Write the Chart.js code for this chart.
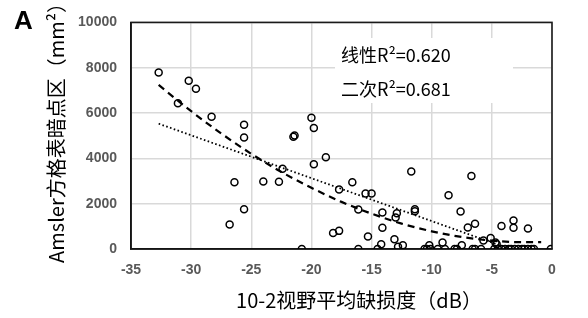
<!DOCTYPE html>
<html>
<head>
<meta charset="utf-8">
<script src="https://cdn.jsdelivr.net/npm/chart.js@4.4.0/dist/chart.umd.min.js"></script>
<style>
html,body{margin:0;padding:0;background:#fff;}
#wrap{width:588px;height:318px;position:relative;}
</style>
</head>
<body>
<div id="wrap"><canvas id="c" width="588" height="318"></canvas></div>
<script>
// Scatter points
const ptX = [-32.7,-30.2,-29.6,-31.1,-28.3,-25.6,-25.6,-22.4,-26.4,-24.0,-22.7,-25.6,-26.8,
  -20.0,-19.8,-21.5,-21.4,-18.8,-19.8,-16.6,-17.7,-15.5,-15.0,-16.1,-14.1,-12.9,-13.0,-11.7,
  -18.2,-17.7,-14.1,-15.3,-13.1,-14.2,-12.8,-12.4,-6.7,-8.6,-11.4,-11.4,-7.6,-7.0,-6.4,-4.2,
  -3.2,-3.2,-2.0,-5.7,-5.1,-4.7,-4.6,-9.1,-7.5,-10.2,
  -20.8,-16.1,-14.5,-10.6,-10.4,-10.1,-9.5,-8.9,-8.1,-7.9,-6.6,-6.4,-5.9,-4.8,-4.5,-4.2,
  -3.9,-3.6,-3.4,-3.1,-2.8,-2.5,-2.3,-2.0,-1.7,-1.5,-0.1];
const ptY = [7790,7420,7070,6430,5840,5480,4920,3540,2950,2980,2970,1750,1080,
  5790,5340,4950,5010,4050,3740,2950,2630,2450,2450,1740,1610,1580,1390,3420,
  710,800,940,550,430,210,100,160,3220,2370,1750,1670,1650,950,1110,1020,
  1260,940,900,380,490,290,210,290,170,170,
  0,0,0,0,0,0,0,0,0,0,0,0,0,0,0,0,
  0,0,0,0,0,0,0,0,0,0,0];
// Quadratic trend curve
const quadX = [-32.7,-30,-27.5,-25,-22.5,-20,-17.5,-15,-12.5,-10,-7.5,-5,-2.5,-0.9];
const quadY = [7240,6080,5100,4200,3400,2700,2080,1560,1120,780,530,370,300,300];
// Linear trend line, end points
const linX = [-32.7,-3.5];
const linY = [5530,0];
// Axis ticks
const xTicks = [-35,-30,-25,-20,-15,-10,-5,0];
const yTicks = [0,2000,4000,6000,8000,10000];
const noteLines = ['线性R²=0.620','二次R²=0.681'];
const xTitle = '10-2视野平均缺损度（dB）';
const yTitle = 'Amsler方格表暗点区（mm²）';
const panelLabel = 'A';

const toPts = (xs, ys) => xs.map((v,i)=>({x:v,y:ys[i]}));

const decor = {
  id:'decor',
  beforeDatasetsDraw(chart){
    const {ctx, chartArea:a} = chart;
    ctx.save();
    ctx.fillStyle = '#ffffff';
    ctx.fillRect(335, 38, 178, 65);
    ctx.strokeStyle = '#1a1a1a';
    ctx.lineWidth = 1.6;
    ctx.strokeRect(a.left, a.top, a.right - a.left, a.bottom - a.top);
    ctx.restore();
  },
  afterDraw(chart){
    const {ctx} = chart;
    ctx.save();
    ctx.fillStyle = '#000';
    ctx.font = '18px "Noto Sans CJK SC"';
    ctx.textAlign = 'left';
    ctx.textBaseline = 'alphabetic';
    ctx.fillText(noteLines[0], 341, 62);
    ctx.fillText(noteLines[1], 341, 96);
    // x title
    ctx.font = '20px "Noto Sans CJK SC"';
    ctx.textAlign = 'center';
    ctx.textBaseline = 'middle';
    ctx.fillText(xTitle, 359, 300);
    // y title
    ctx.save();
    ctx.translate(56, 128);
    ctx.rotate(-Math.PI/2);
    ctx.font = '20px "Noto Sans CJK SC"';
    ctx.fillText(yTitle, 0, 0);
    ctx.restore();
    // panel label
    ctx.font = 'bold 26px "Liberation Sans"';
    ctx.textAlign = 'left';
    ctx.textBaseline = 'alphabetic';
    ctx.fillText(panelLabel, 14, 29);
    ctx.restore();
  }
};

const tickFont = { family: 'Liberation Sans', size: 14, weight: 'bold' };

new Chart(document.getElementById('c'), {
  type: 'scatter',
  data: {
    datasets: [
      {
        label: 'points',
        data: toPts(ptX, ptY),
        pointRadius: 3.5,
        pointBorderWidth: 1.5,
        borderColor: '#000',
        backgroundColor: 'rgba(0,0,0,0)',
        pointHoverRadius: 3.5
      },
      {
        label: 'quad',
        data: toPts(quadX, quadY),
        showLine: true,
        pointRadius: 0,
        borderColor: '#000',
        borderWidth: 2.2,
        borderDash: [7,5],
        cubicInterpolationMode: 'monotone',
        fill: false
      },
      {
        label: 'linear',
        data: toPts(linX, linY),
        showLine: true,
        pointRadius: 0,
        borderColor: '#000',
        borderWidth: 1.8,
        borderDash: [1.6,2.4],
        fill: false
      }
    ]
  },
  options: {
    responsive: false,
    animation: false,
    events: [],
    layout: { padding: { left: 0, right: 36, top: 11, bottom: 0 } },
    plugins: { legend: { display: false }, tooltip: { enabled: false } },
    scales: {
      x: {
        type: 'linear',
        min: -35, max: 0,
        afterBuildTicks: s => { s.ticks = xTicks.map(v => ({value: v})); },
        afterFit: s => { s.height = 69; },
        grid: { color: '#d9d9d9', lineWidth: 1.5, drawTicks: false },
        border: { color: '#000', width: 1.6 },
        ticks: { padding: 13, color: '#595959', font: tickFont, callback: v => String(v) }
      },
      y: {
        type: 'linear',
        min: 0, max: 10000,
        afterBuildTicks: s => { s.ticks = yTicks.map(v => ({value: v})); },
        afterFit: s => { s.width = 131; },
        grid: { color: '#d9d9d9', lineWidth: 1.5, drawTicks: false },
        border: { color: '#000', width: 1.6 },
        ticks: { padding: 14, color: '#595959', font: tickFont, callback: v => String(v) }
      }
    }
  },
  plugins: [decor]
});
</script>
</body>
</html>
